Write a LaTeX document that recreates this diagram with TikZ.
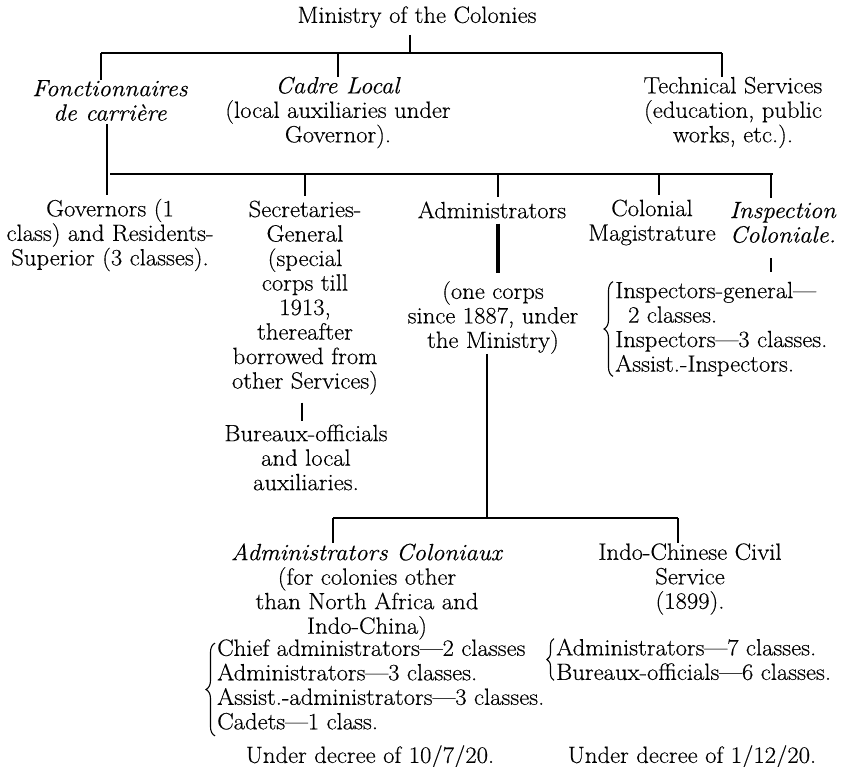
\documentclass[tikz,border=0pt]{standalone}
\usepackage{fontspec}
\setmainfont{Latin Modern Roman}[FakeBold=0.35, FakeStretch=1.05]
\usetikzlibrary{decorations.pathreplacing}
\begin{document}
\begin{tikzpicture}[x=1pt,y=-1pt,
  txt/.style={font=\fontsize{23.5}{24.5}\selectfont, align=center, inner sep=0pt},
  lst/.style={font=\fontsize{23.5}{24.5}\selectfont, align=left, inner sep=0pt, anchor=west},
  barA/.style={line width=2.2pt},
  barB/.style={line width=2.8pt},
  tick/.style={line width=1.9pt},
  thin/.style={line width=1.3pt},
  brc/.style={decorate, decoration={brace, amplitude=9pt}, line width=1.1pt}]
\useasboundingbox (0,0) rectangle (841,767);

% nodes
\node[txt] (min) at (417,17) {Ministry of the Colonies};
\node[txt] (fonc) at (110,100.5) {\textit{Fonctionnaires}\\\textit{de carrière}};
\node[txt] (cadre) at (338,112.5) {\textit{Cadre Local}\\(local auxiliaries under\\Governor).};
\node[txt] (tech) at (733,112.5) {Technical Services\\(education, public\\works, etc.).};
\node[txt] (gov) at (110,235) {Governors (1\\class) and Residents-\\Superior (3 classes).};
\node[txt] (sec) at (305,297.5) {Secretaries-\\General\\(special\\corps till\\1913,\\thereafter\\borrowed from\\other Services)};
\node[txt] (bur) at (306,457.5) {Bureaux-officials\\and local\\auxiliaries.};
\node[txt] (adm) at (492,210) {Administrators};
\node[txt] (corps) at (493,317.5) {(one corps\\since 1887, under\\the Ministry)};
\node[txt] (mag) at (652,222.5) {Colonial\\Magistrature};
\node[txt] (insp) at (783,222.5) {\textit{Inspection}\\\textit{Coloniale.}};
\node[lst] (ilist) at (615,329) {Inspectors-general---\\\hspace*{0.55em}2 classes.\\Inspectors---3 classes.\\Assist.-Inspectors.};
\node[txt] (acol) at (367,591.5) {\textit{Administrators Coloniaux}\\(for colonies other\\than North Africa and\\Indo-China)};
\node[lst] (alist) at (217,684.5) {Chief administrators---2 classes\\Administrators---3 classes.\\Assist.-administrators---3 classes.\\Cadets---1 class.};
\node[txt] (udl) at (370,757) {Under decree of 10/7/20.};
\node[txt] (indo) at (690,579) {Indo-Chinese Civil\\Service\\(1899).};
\node[lst] (ilist2) at (556,659.5) {Administrators---7 classes.\\Bureaux-officials---6 classes.};
\node[txt] (udr) at (692,757) {Under decree of 1/12/20.};

% coordinates
\coordinate (b1l) at (101,53);
\coordinate (b1m) at (338,53);
\coordinate (b1t) at (410,53);
\coordinate (b1r) at (722,53);
\coordinate (gl) at (107,174);
\coordinate (b2l) at (110,174);
\coordinate (b2s) at (305,174);
\coordinate (b2a) at (498,174);
\coordinate (b2c) at (659,174);
\coordinate (b2i) at (771,174);
\coordinate (b2r) at (773,174);
\coordinate (sx) at (302,400);
\coordinate (b3l) at (333,518);
\coordinate (b3m) at (487,518);
\coordinate (b3r) at (678,518);

% top level
\draw[thin] ([yshift=-7pt]min.south -| b1t) -- (b1t);
\draw[barA] (b1l) -- (b1r);
\draw[tick] (b1l) -- (fonc.north -| b1l);
\draw[tick] (b1m) -- (cadre.north -| b1m);
\draw[tick] (b1r) -- (tech.north -| b1r);

% second level
\draw[tick] ([yshift=-3pt]fonc.south -| gl) -- ([yshift=4pt]gov.north -| gl);
\draw[barB] (b2l) -- (b2r);
\draw[tick] (b2s) -- ([yshift=4pt]sec.north -| b2s);
\draw[tick] (b2a) -- ([yshift=4pt]adm.north -| b2a);
\draw[tick] (b2c) -- ([yshift=4pt]mag.north -| b2c);
\draw[tick] (b2i) -- ([yshift=4pt]insp.north -| b2i);

% below second level
\draw[tick] ([yshift=-8pt]sec.south -| sx) -- ([yshift=3pt]bur.north -| sx);
\draw[line width=3.4pt] ([yshift=-5pt]adm.south -| b2a) -- ([yshift=8pt]corps.north -| b2a);
\draw[tick] ([yshift=-15pt]insp.south -| b2i) -- ([yshift=10pt]ilist.north -| b2i);
\draw[line width=1.6pt] (corps.south -| b3m) -- (b3m);

% third level
\draw[barB] (b3l) -- (b3r);
\draw[tick] (b3l) -- (acol.north -| b3l);
\draw[tick] (b3r) -- (indo.north -| b3r);

% braces
\draw[brc] ([xshift=-2pt]ilist.south west) -- ([xshift=-2pt]ilist.north west);
\draw[brc] ([xshift=-2pt,yshift=-6pt]alist.south west) -- ([xshift=-2pt,yshift=-4pt]alist.north west);
\draw[brc, decoration={brace, amplitude=7pt}] ([xshift=-2pt]ilist2.south west) -- ([xshift=-2pt]ilist2.north west);
\end{tikzpicture}
\end{document}
